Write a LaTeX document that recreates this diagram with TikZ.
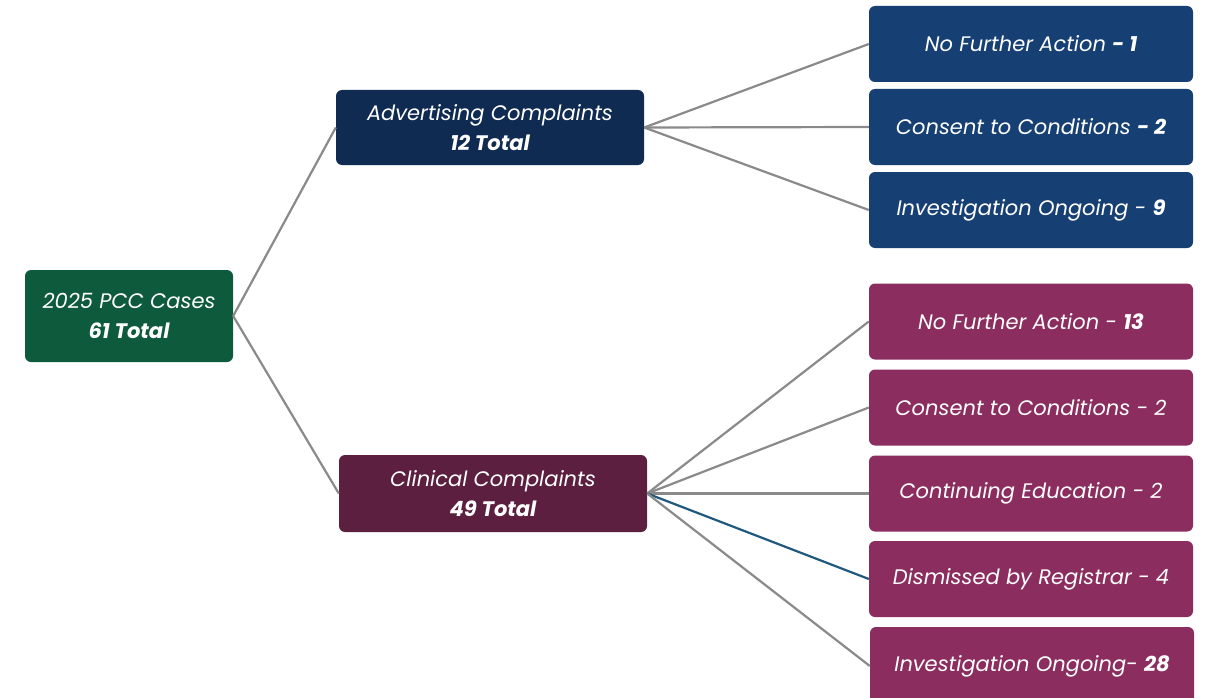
\documentclass[tikz,border=0pt]{standalone}
\usepackage{fontspec}
\setmainfont{Poppins}
\definecolor{rootgreen}{HTML}{0E5A3C}
\definecolor{advnavy}{HTML}{0F2B52}
\definecolor{advblue}{HTML}{163F73}
\definecolor{clinplum}{HTML}{5C1F40}
\definecolor{clinmag}{HTML}{8B2D5E}
\definecolor{linegray}{HTML}{8A8A8A}
\definecolor{lineblue}{HTML}{1F5A7E}
\begin{document}
\begin{tikzpicture}[x=1pt,y=-1pt,
  box/.style={rounded corners=6pt, text=white, inner sep=0pt, align=center,
    font=\fontsize{21}{30}\selectfont\itshape},
  rootbox/.style={box, fill=rootgreen, minimum width=208pt, minimum height=92pt},
  midadv/.style={box, fill=advnavy, minimum width=308pt, minimum height=75pt},
  midclin/.style={box, fill=clinplum, minimum width=308pt, minimum height=77pt},
  leafadv/.style={box, fill=advblue, minimum width=324pt, minimum height=76pt},
  leafclin/.style={box, fill=clinmag, minimum width=324pt, minimum height=76pt},
  conn/.style={draw=linegray, line width=2.2pt},
  connblue/.style={draw=lineblue, line width=2.2pt}]
\useasboundingbox (0,0) rectangle (1207,698);
\fill[white] (0,0) rectangle (1207,698);

\node[rootbox] (root) at (129,316) {2025 PCC Cases\\\textbf{61 Total}};
\node[midadv] (adv) at (490,127.5) {Advertising Complaints\\\textbf{12 Total}};
\node[midclin] (clin) at (493,493.5) {Clinical Complaints\\\textbf{49 Total}};

\node[leafadv] (a1) at (1031,44) {No Further Action \textbf{- 1}};
\node[leafadv] (a2) at (1031,127) {Consent to Conditions \textbf{- 2}};
\node[leafadv] (a3) at (1031,210) {Investigation Ongoing - \textbf{9}};

\node[leafclin] (c1) at (1031,321.5) {No Further Action - \textbf{13}};
\node[leafclin] (c2) at (1031,407.5) {Consent to Conditions - 2};
\node[leafclin] (c3) at (1031,493.5) {Continuing Education - 2};
\node[leafclin] (c4) at (1031,579) {Dismissed by Registrar - 4};
\node[leafclin, minimum height=78pt] (c5) at (1032,666) {Investigation Ongoing- \textbf{28}};

\draw[conn] (root.east) -- (adv.west);
\draw[conn] (root.east) -- (clin.west);
\draw[conn] (adv.east) -- (a1.west);
\draw[conn] (adv.east) -- (a2.west);
\draw[conn] (adv.east) -- (a3.west);
\draw[conn] (clin.east) -- (c1.west);
\draw[conn] (clin.east) -- (c2.west);
\draw[conn] (clin.east) -- (c3.west);
\draw[connblue] (clin.east) -- (c4.west);
\draw[conn] (clin.east) -- (c5.west);
\end{tikzpicture}
\end{document}
